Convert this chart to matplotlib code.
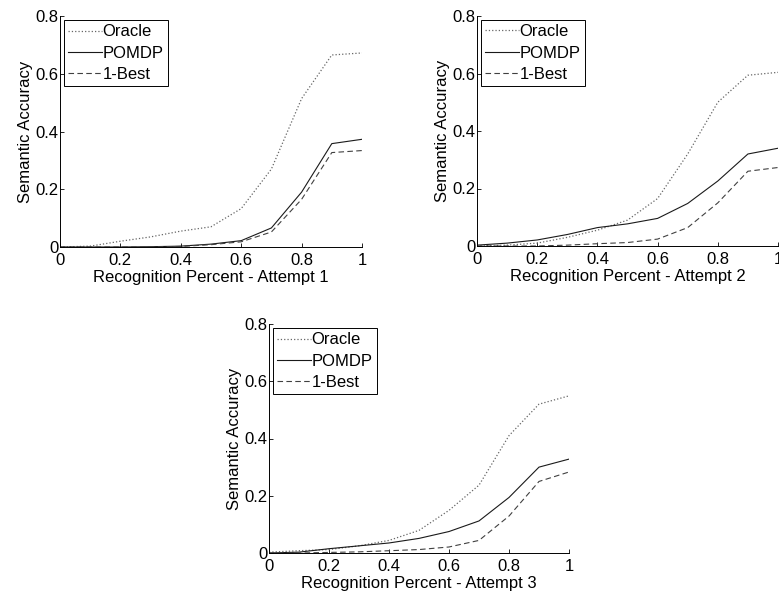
import matplotlib.pyplot as plt

plt.rcParams['font.family'] = ['Liberation Sans', 'DejaVu Sans']

x = [0, 0.1, 0.2, 0.3, 0.4, 0.5, 0.6, 0.7, 0.8, 0.9, 1.0]

oracle_1 = [0, 0.003, 0.02, 0.035, 0.055, 0.07, 0.133, 0.27, 0.514, 0.665, 0.672]
pomdp_1 = [0, 0, 0, 0.001, 0.003, 0.01, 0.022, 0.066, 0.19, 0.358, 0.373]
best_1 = [0, 0, 0, 0, 0.002, 0.008, 0.018, 0.052, 0.165, 0.327, 0.334]

oracle_2 = [0, 0.003, 0.01, 0.03, 0.055, 0.09, 0.165, 0.32, 0.5, 0.594, 0.604]
pomdp_2 = [0.003, 0.01, 0.021, 0.04, 0.064, 0.077, 0.096, 0.148, 0.226, 0.32, 0.34]
best_2 = [0, 0, 0, 0.003, 0.008, 0.012, 0.024, 0.064, 0.15, 0.26, 0.273]

oracle_3 = [0.003, 0.008, 0.012, 0.025, 0.044, 0.079, 0.149, 0.237, 0.41, 0.52, 0.549]
pomdp_3 = [0, 0.003, 0.015, 0.025, 0.035, 0.051, 0.075, 0.112, 0.194, 0.30, 0.328]
best_3 = [0, 0, 0.002, 0.004, 0.008, 0.012, 0.021, 0.044, 0.129, 0.25, 0.283]

panels = [
    ([60 / 779, 1 - 247 / 594, 302 / 779, 231 / 594], oracle_1, pomdp_1, best_1, 'Recognition Percent - Attempt 1'),
    ([477 / 779, 1 - 246 / 594, 301 / 779, 230 / 594], oracle_2, pomdp_2, best_2, 'Recognition Percent - Attempt 2'),
    ([269 / 779, 1 - 553 / 594, 300 / 779, 229 / 594], oracle_3, pomdp_3, best_3, 'Recognition Percent - Attempt 3'),
]

fs = 12

fig = plt.figure(figsize=(7.79, 5.94), dpi=100)

for rect, oracle, pomdp, best, xlabel in panels:
    ax = fig.add_axes(rect)
    ax.plot(x, oracle, ':', color='0.4', lw=0.9, label='Oracle')
    ax.plot(x, pomdp, '-', color='0.1', lw=0.8, label='POMDP')
    ax.plot(x, best, '--', color='0.25', lw=0.8, dashes=(5, 3), label='1-Best')
    ax.set_xlim(0, 1)
    ax.set_ylim(0, 0.8)
    ax.set_xticks([0, 0.2, 0.4, 0.6, 0.8, 1])
    ax.set_xticklabels(['0', '0.2', '0.4', '0.6', '0.8', '1'])
    ax.set_yticks([0, 0.2, 0.4, 0.6, 0.8])
    ax.set_yticklabels(['0', '0.2', '0.4', '0.6', '0.8'])
    ax.tick_params(direction='in', length=3, width=0.6, labelsize=fs, pad=1)
    ax.tick_params(axis='x', pad=4)
    ax.spines['top'].set_visible(False)
    ax.spines['right'].set_visible(False)
    ax.spines['left'].set_linewidth(0.7)
    ax.spines['bottom'].set_linewidth(0.7)
    ax.set_xlabel(xlabel, fontsize=fs, labelpad=2)
    ax.set_ylabel('Semantic Accuracy', fontsize=fs, labelpad=2)
    leg = ax.legend(loc='upper left', fontsize=fs, handlelength=2.0, handletextpad=0.05,
                    borderaxespad=0.25, borderpad=0.25, labelspacing=0.38, fancybox=False,
                    framealpha=1, edgecolor='black')
    leg.get_frame().set_linewidth(0.7)

fig.savefig('out.png', dpi=100)
